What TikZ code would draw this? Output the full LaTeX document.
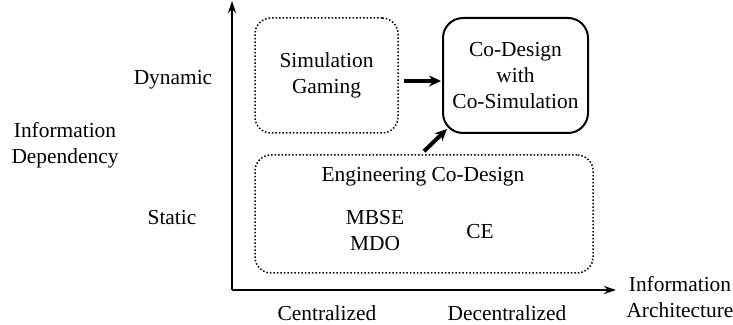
\documentclass[tikz,border=0pt]{standalone}
\usepackage{fontspec}
\setmainfont{Liberation Serif}
\usepackage{tikz}
\usetikzlibrary{positioning, arrows, arrows.meta}

\begin{document}
\begin{tikzpicture}[x=0.5pt,y=-0.5pt,
  font=\fontsize{10.7}{13}\selectfont,
  dotbox/.style={draw, densely dotted, line width=0.75pt, rounded corners=8pt, align=center},
  solidbox/.style={draw, line width=1pt, rounded corners=10pt, align=center},
  axis/.style={line width=0.8pt, -{Stealth[length=6pt,width=4pt]}},
  fat/.style={line width=2pt, -{Stealth[length=6pt,width=5.5pt]}},
  lbl/.style={align=center, inner sep=0pt}]
\useasboundingbox (0,0) rectangle (733,325);
% axes
\coordinate (O) at (232,290);
\coordinate (ytop) at (232,1);
\coordinate (xend) at (616,290);
\draw[axis] (O) -- (ytop);
\draw[axis] (O) -- (xend);
% boxes
\node[dotbox, minimum width=71.5pt, minimum height=57.5pt] (sg) at (326.5,75.5) {Simulation\\Gaming};
\node[solidbox, minimum width=72.5pt, minimum height=57.5pt] (cd) at (515.5,75.5) {Co-Design\\with\\Co-Simulation};
\node[dotbox, minimum width=169pt, minimum height=59pt] (ecd) at (424,214) {};
% inside the static box
\node[lbl] (eng) at (423,177) {Engineering Co-Design};
\node[lbl] (mbse) at (375,231) {MBSE\\MDO};
\node[lbl] (ce) at (480,232) {CE};
% thick arrows
\draw[fat] ([xshift=2.5pt,yshift=-2.75pt]sg.east) -- ([xshift=-0.5pt,yshift=-2.75pt]cd.west);
\draw[fat] ([yshift=1.5pt]ecd.north) -- ([shift={(2.5pt,2.5pt)}]cd.south west);
% axis labels
\node[lbl] (dyn) at (173,80) {Dynamic};
\node[lbl] (stat) at (172,218) {Static};
\node[lbl] (idep) at (65,145) {Information\\Dependency};
\node[lbl] (cen) at (327,313) {Centralized};
\node[lbl] (dec) at (507,313) {Decentralized};
\node[lbl] (iarch) at (680,297) {Information\\Architecture};
\end{tikzpicture}
\end{document}
